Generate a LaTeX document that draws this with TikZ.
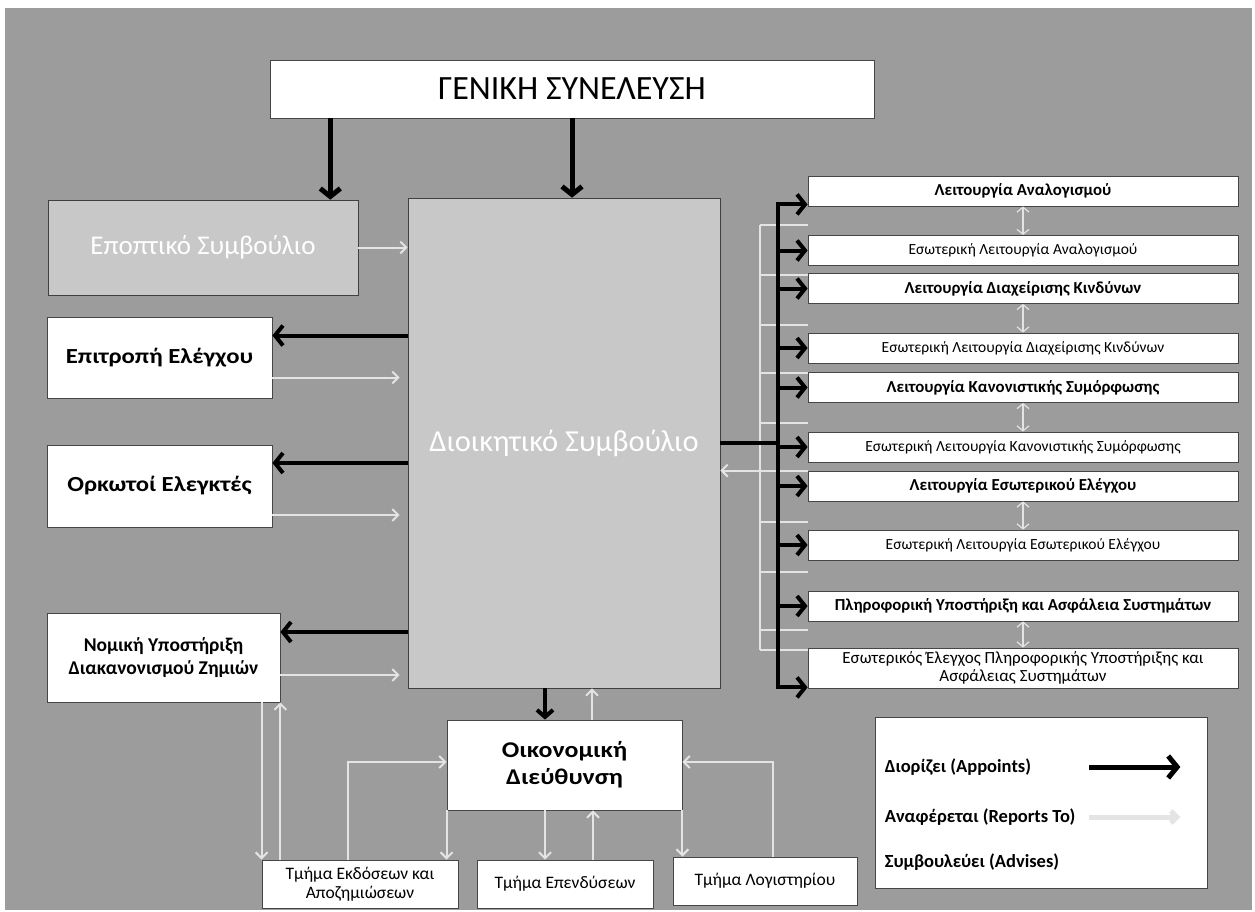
\documentclass[tikz,border=0pt]{standalone}
\usepackage{fontspec}
\setmainfont{Carlito}
\newfontfamily\widesans{Carlito}[FakeStretch=1.15]
\usetikzlibrary{arrows.meta}
\usetikzlibrary{positioning}
\definecolor{bggrey}{RGB}{156,156,156}
\definecolor{boardgrey}{RGB}{200,200,200}
\definecolor{linegrey}{RGB}{228,228,228}
\definecolor{edgegrey}{RGB}{70,70,70}
\tikzset{x=1pt, y=-1pt, font=\fontsize{15.5}{17}\selectfont}
\tikzstyle{box} = [draw=edgegrey, line width=0.8pt, fill=white, rectangle, inner sep=2pt, text centered, align=center]
\tikzstyle{board} = [draw=gray!50!black, line width=0.6pt, fill=boardgrey, text=white, rectangle, font=\fontsize{27}{30}\selectfont]
\tikzstyle{bigbox} = [box, font=\widesans\bfseries\fontsize{21.5}{25}\selectfont]
\tikzstyle{funcbox} = [box, minimum width=430pt, minimum height=30pt]
\tikzstyle{funcbold} = [funcbox, font=\bfseries\fontsize{16.8}{18}\selectfont]
\tikzstyle{deptbox} = [box, minimum height=48pt, font=\fontsize{17.5}{19}\selectfont]
\tikzstyle{keytext} = [anchor=west, inner sep=0pt, font=\bfseries\fontsize{18.5}{20}\selectfont]
\tikzstyle{appoint} = [draw=black, line width=4pt, -{Straight Barb[length=8pt, width=20pt]}]
\tikzstyle{report} = [draw=linegrey, line width=2pt, -{Straight Barb[length=6pt, width=12pt]}]
\tikzstyle{report line} = [draw=linegrey, line width=2pt]
\tikzstyle{advise} = [draw=linegrey, line width=1.2pt, {Straight Barb[length=5pt, width=12pt]}-{Straight Barb[length=5pt, width=12pt]}]
\begin{document}
\begin{tikzpicture}
    \useasboundingbox (0,0) rectangle (1255,912);
    \fill[white] (0,0) rectangle (1255,912);
    \fill[bggrey] (5,8) rectangle (1252,910);

    % top and boards
    \node [box, minimum width=604pt, minimum height=58pt, font=\fontsize{34}{38}\selectfont] (gs) at (572,89) {ΓΕΝΙΚΗ ΣΥΝΕΛΕΥΣΗ};
    \node [board, minimum width=310pt, minimum height=95pt] (ep) at (203,247.5) {Εποπτικό Συμβούλιο};
    \node [board, minimum width=312pt, minimum height=490pt, font=\fontsize{30.5}{33}\selectfont] (ds) at (564,443) {Διοικητικό Συμβούλιο};

    % left side
    \node [bigbox, minimum width=225pt, minimum height=81pt] (ee) at (159.5,357.5) {Επιτροπή Ελέγχου};
    \node [bigbox, minimum width=225pt, minimum height=82pt] (oe) at (159.5,486) {Ορκωτοί Ελεγκτές};
    \node [box, minimum width=233pt, minimum height=89pt, font=\bfseries\fontsize{19.5}{22.5}\selectfont] (nz) at (163.5,657.5) {Νομική Υποστήριξη\\Διακανονισμού Ζημιών};

    % bottom
    \node [bigbox, minimum width=235pt, minimum height=90pt, font=\widesans\bfseries\fontsize{22.5}{27}\selectfont] (od) at (564.5,765) {Οικονομική\\Διεύθυνση};
    \node [deptbox, minimum width=196pt] (t1) at (360,884) {Τμήμα Εκδόσεων και\\Αποζημιώσεων};
    \node [deptbox, minimum width=176pt] (t2) at (565,884) {Τμήμα Επενδύσεων};
    \node [deptbox, minimum width=184pt] (t3) at (765,881) {Τμήμα Λογιστηρίου};

    % right side
    \node [funcbold] (r1) at (1023,191) {Λειτουργία Αναλογισμού};
    \node [funcbox] (r2) at (1023,250.5) {Εσωτερική Λειτουργία Αναλογισμού};
    \node [funcbold] (r3) at (1023,288.5) {Λειτουργία Διαχείρισης Κινδύνων};
    \node [funcbox] (r4) at (1023,348) {Εσωτερική Λειτουργία Διαχείρισης Κινδύνων};
    \node [funcbold] (r5) at (1023,387.5) {Λειτουργία Κανονιστικής Συμόρφωσης};
    \node [funcbox] (r6) at (1023,447) {Εσωτερική Λειτουργία Κανονιστικής Συμόρφωσης};
    \node [funcbold] (r7) at (1023,486) {Λειτουργία Εσωτερικού Ελέγχου};
    \node [funcbox] (r8) at (1023,545) {Εσωτερική Λειτουργία Εσωτερικού Ελέγχου};
    \node [funcbold] (r9) at (1023,606) {Πληροφορική Υποστήριξη και Ασφάλεια Συστημάτων};
    \node [funcbox, minimum height=40pt, font=\fontsize{17}{18.5}\selectfont] (r10) at (1023,668) {Εσωτερικός Έλεγχος Πληροφορικής Υποστήριξης και\\Ασφάλειας Συστημάτων};

    % legend
    \node [box, minimum width=332pt, minimum height=171pt] (lg) at (1041,802.5) {};
    \node [keytext] (lgA) at ([xshift=10pt, yshift=35.5pt]lg.west) {Διορίζει (Appoints)};
    \node [keytext] (lgR) at ([xshift=10pt, yshift=-14.5pt]lg.west) {Αναφέρεται (Reports To)};
    \node [keytext] (lgS) at ([xshift=10pt, yshift=-59.5pt]lg.west) {Συμβουλεύει (Advises)};
    \coordinate (keyS) at ([xshift=-118pt]lg.east);
    \coordinate (keyE) at ([xshift=-27pt]lg.east);
    \draw [appoint, line width=5pt, -{Straight Barb[length=9pt, width=22pt]}] (keyS |- lgA) -- (keyE |- lgA);
    \draw [report, line width=5pt] (keyS |- lgR) -- (keyE |- lgR);

    % general meeting appoints
    \coordinate (epIn) at ([xshift=-28pt]ep.north east);
    \draw [appoint, line width=5pt] (epIn |- gs.south) -- (epIn);
    \draw [appoint, line width=5pt] (gs.south) -- (gs.south |- ds.north);
    \draw [report] (ep.east) -- (ds.west |- ep.east);

    % committees
    \coordinate (eeA) at ([yshift=22pt]ee.east);
    \coordinate (eeR) at ([yshift=-20pt]ee.east);
    \coordinate (oeA) at ([yshift=23pt]oe.east);
    \coordinate (oeR) at ([yshift=-29pt]oe.east);
    \coordinate (nzA) at ([yshift=25.5pt]nz.east);
    \coordinate (nzR) at ([yshift=-17.5pt]nz.east);
    \foreach \n in {ee,oe,nz} {
        \draw [appoint] (ds.west |- \n A) -- (\n A);
        \draw [report, shorten >=8pt] (\n R) -- (ds.west |- \n R);
    }

    % finance
    \coordinate (odA) at ([xshift=-19.5pt]od.north);
    \coordinate (odR) at ([xshift=27.5pt]od.north);
    \draw [appoint, -{Straight Barb[length=7pt, width=16pt]}] (ds.south -| odA) -- (odA);
    \draw [report] (odR) -- (odR |- ds.south);
    \coordinate (t1R) at ([xshift=-12pt]t1.north);
    \coordinate (t2A) at ([xshift=-20pt]t2.north);
    \coordinate (t2R) at ([xshift=28pt]t2.north);
    \coordinate (t3R) at ([xshift=8pt]t3.north);
    \draw [report] (od.south west) -- (od.south west |- t1.north);
    \draw [report] (od.south -| t2A) -- (t2A);
    \draw [report] (t2R) -- (t2R |- od.south);
    \draw [report] (od.south east) -- (od.south east |- t3.north);
    \draw [report] (t1R) |- ([yshift=3pt]od.west);
    \draw [report] (t3R) |- ([yshift=3pt]od.east);
    \draw [report] (t1.north west |- nz.south) -- (t1.north west);
    \draw [report] (nz.south east |- t1.north) -- (nz.south east);

    % functions: reports back
    \coordinate [right=58pt of ds.east] (bus);
    \coordinate [left=18pt of bus] (lbus);
    \draw [report line] (lbus |- 0,225) -- (lbus |- 0,650);
    \foreach \y in {225,275,325,373,423,522,572,630,650}
        \draw [report line] (lbus |- 0,\y) -- (r1.west |- 0,\y);
    \draw [report] (r7.north west) -- (ds.east |- r7.north west);

    % functions: appoints
    \draw [line width=4pt] (ds.east) -- (bus);
    \draw [appoint, line join=miter, {Straight Barb[length=8pt, width=20pt]}-{Straight Barb[length=8pt, width=20pt]}]
        ([yshift=2pt]r1.south west) -| (bus) |- ([yshift=1pt]r10.south west);
    \foreach \i in {2,...,9}
        \draw [appoint] (r\i.west -| bus) -- (r\i.west);

    % advises
    \foreach \a/\b in {r1/r2,r3/r4,r5/r6,r7/r8,r9/r10}
        \draw [advise] (\a.south) -- (\b.north);
\end{tikzpicture}
\end{document}
